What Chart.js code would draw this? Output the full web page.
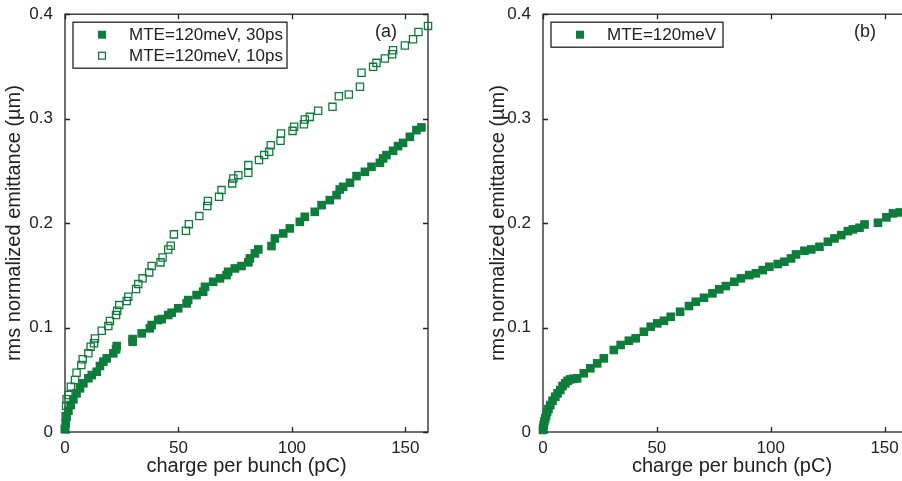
<!DOCTYPE html>
<html>
<head>
<meta charset="utf-8">
<script src="https://cdn.jsdelivr.net/npm/chart.js@4.4.0/dist/chart.umd.min.js"></script>
<style>
  html, body { margin: 0; padding: 0; background: #fff; overflow: hidden; }
  body { width: 902px; height: 481px; position: relative; }
  #chart-a { position: absolute; left: 0; top: 0; }
  #chart-b { position: absolute; left: 450px; top: 0; }
</style>
</head>
<body>
<canvas id="chart-a" width="450" height="481"></canvas>
<canvas id="chart-b" width="490" height="481"></canvas>
<script>
// panel (a): MTE=120meV, 30ps (filled squares)
var charge30 = [0.0, 0.3, 0.7, 1.5, 2.5, 3.7, 5.1, 6.6, 8.1, 10.3, 11.8, 14.0, 15.4, 16.9, 18.4,
  21.3, 22.5, 22.8, 29.8, 29.8, 33.8, 37.4, 38.2, 41.1, 42.6, 45.5, 47.0, 49.9, 53.6, 54.3,
  58.0, 60.9, 61.7, 65.3, 68.3, 71.2, 71.9, 74.9, 77.8, 80.8, 81.5, 83.7, 85.2, 91.0, 92.5,
  96.2, 99.1, 103.5, 105.7, 110.1, 113.1, 116.7, 119.7, 121.1, 122.6, 125.6, 128.5, 132.2,
  135.1, 138.8, 140.2, 141.7, 144.6, 146.8, 149.0, 152.0, 154.9, 157.1];
var emit30 = [0.0026, 0.0083, 0.0146, 0.0204, 0.0258, 0.0313, 0.037, 0.0418, 0.0466, 0.0514,
  0.0545, 0.0577, 0.0632, 0.0673, 0.0705, 0.0753, 0.0791, 0.0823, 0.0864, 0.089, 0.0944,
  0.0992, 0.1024, 0.1072, 0.1081, 0.112, 0.1142, 0.1184, 0.1231, 0.1263, 0.1311, 0.1343,
  0.139, 0.1438, 0.1471, 0.1502, 0.1534, 0.1566, 0.1589, 0.1624, 0.1662, 0.171, 0.1748,
  0.178, 0.1853, 0.1901, 0.1949, 0.2012, 0.206, 0.2108, 0.2172, 0.222, 0.2268, 0.2322,
  0.2347, 0.2386, 0.245, 0.2491, 0.2539, 0.2577, 0.2619, 0.2651, 0.2692, 0.2737, 0.2768,
  0.2826, 0.289, 0.2916];

// panel (a): MTE=120meV, 10ps (open squares)
var charge10 = [0.0, 0.3, 0.5, 0.7, 1.5, 2.6, 4.4, 5.1, 7.2, 7.8, 10.3, 11.3, 12.8, 13.2, 16.2,
  19.1, 19.8, 22.5, 23.0, 23.9, 27.2, 27.9, 31.3, 32.3, 34.2, 37.1, 38.2, 42.1, 43.0, 45.5,
  46.6, 48.0, 53.3, 54.6, 59.2, 62.7, 63.0, 67.9, 69.0, 73.7, 74.2, 76.4, 80.8, 80.8, 85.5,
  87.8, 90.0, 90.7, 95.0, 95.2, 100.3, 101.0, 105.3, 105.7, 107.9, 111.6, 117.9, 120.7,
  125.1, 130.0, 130.7, 135.8, 137.3, 141.0, 144.2, 144.6, 149.8, 153.4, 155.8, 160.0];
var emit10 = [0.003, 0.015, 0.025, 0.0313, 0.0354, 0.0434, 0.0498, 0.0568, 0.0641, 0.0696,
  0.0753, 0.0816, 0.0849, 0.0896, 0.097, 0.1014, 0.1062, 0.112, 0.1161, 0.1215, 0.1254,
  0.1295, 0.1368, 0.1416, 0.1471, 0.1528, 0.1589, 0.1624, 0.1671, 0.1748, 0.1783, 0.1892,
  0.1926, 0.199, 0.2067, 0.2163, 0.2211, 0.2252, 0.2316, 0.238, 0.2428, 0.2459, 0.2481,
  0.2555, 0.2603, 0.2651, 0.2682, 0.2746, 0.2788, 0.2858, 0.2883, 0.2922, 0.2947, 0.2992,
  0.3017, 0.3075, 0.3113, 0.3215, 0.3231, 0.3305, 0.3439, 0.3496, 0.3534, 0.3576, 0.3617,
  0.3655, 0.370, 0.376, 0.383, 0.3888];

// panel (b): MTE=120meV
var chargeB = [0.0, 0.1, 0.3, 0.6, 1.0, 1.4, 1.8, 2.4, 3.2, 4.2, 5.4, 6.4, 7.6, 8.6, 9.8, 10.8,
  12.0, 13.5, 15.0, 17.9, 20.8, 23.8, 26.7, 31.1, 34.1, 37.7, 40.7, 44.3, 47.3, 50.2, 53.1,
  56.1, 60.2, 64.1, 67.1, 70.7, 74.4, 77.4, 80.3, 84.0, 86.9, 90.6, 93.5, 96.5, 99.4, 103.1,
  106.0, 108.9, 111.1, 114.8, 117.8, 121.4, 125.1, 128.0, 131.0, 133.9, 136.1, 139.0, 141.2,
  147.1, 150.8, 153.7, 156.7, 159.6];
var emitB = [0.002, 0.004, 0.0067, 0.010, 0.0131, 0.016, 0.0194, 0.022, 0.0258, 0.030, 0.0338,
  0.037, 0.0402, 0.044, 0.0466, 0.049, 0.0504, 0.051, 0.0514, 0.0562, 0.061, 0.0657, 0.0705,
  0.0785, 0.0833, 0.0874, 0.0897, 0.096, 0.1008, 0.104, 0.1065, 0.1103, 0.1151, 0.1206,
  0.1247, 0.1285, 0.1327, 0.1366, 0.1397, 0.1438, 0.1471, 0.1502, 0.1519, 0.155, 0.1582,
  0.1608, 0.163, 0.1662, 0.17, 0.1735, 0.1748, 0.1773, 0.1821, 0.1853, 0.1885, 0.1923,
  0.194, 0.1955, 0.1987, 0.2003, 0.2055, 0.2093, 0.2102, 0.2105];

var xTicks = [0, 50, 100, 150];
var xTickLabels = ['0', '50', '100', '150'];
var yTicks = [0, 0.1, 0.2, 0.3, 0.4];
var yTickLabels = ['0', '0.1', '0.2', '0.3', '0.4'];

var GREEN = '#0e7d3c';
var INK = '#222';
var FONT = "'Liberation Sans', Arial, sans-serif";

function points(xs, ys) {
  return xs.map((x, i) => ({ x: x, y: ys[i] }));
}

// matlab-like box with inward ticks, legend box and panel tag
var framePlugin = {
  id: 'frame',
  beforeDatasetsDraw(chart) {
    var ctx = chart.ctx, a = chart.chartArea;
    var xs = chart.scales.x, ys = chart.scales.y;
    ctx.save();
    ctx.strokeStyle = INK;
    ctx.lineWidth = 1.3;
    ctx.beginPath();
    xs.ticks.forEach(t => {
      var px = Math.round(xs.getPixelForValue(t.value)) + 0.5;
      ctx.moveTo(px, a.bottom); ctx.lineTo(px, a.bottom - 5);
      ctx.moveTo(px, a.top); ctx.lineTo(px, a.top + 5);
    });
    ys.ticks.forEach(t => {
      var py = Math.round(ys.getPixelForValue(t.value)) + 0.5;
      ctx.moveTo(a.left, py); ctx.lineTo(a.left + 5, py);
      ctx.moveTo(a.right, py); ctx.lineTo(a.right - 5, py);
    });
    ctx.stroke();
    ctx.strokeRect(a.left, a.top, a.right - a.left, a.bottom - a.top);
    ctx.restore();
  },
  afterDraw(chart, args, opts) {
    var ctx = chart.ctx, a = chart.chartArea;
    var sets = chart.data.datasets;
    var bx = a.left + 8, by = a.top + 8;
    var bh = 4 + 21 * sets.length;
    ctx.save();
    ctx.fillStyle = '#fff';
    ctx.fillRect(bx, by, opts.boxWidth, bh);
    ctx.strokeStyle = INK;
    ctx.lineWidth = 1.3;
    ctx.strokeRect(bx, by, opts.boxWidth, bh);
    ctx.font = '17px ' + FONT;
    ctx.textBaseline = 'middle';
    sets.forEach((ds, i) => {
      var cy = by + 12.5 + 21 * i;
      var mx = bx + 29;
      if (ds.pointBorderWidth) {
        ctx.strokeStyle = GREEN;
        ctx.lineWidth = ds.pointBorderWidth;
        ctx.strokeRect(mx - 3.4, cy - 3.4, 6.8, 6.8);
      } else {
        ctx.fillStyle = GREEN;
        ctx.fillRect(mx - 4, cy - 4, 8, 8);
      }
      ctx.fillStyle = INK;
      ctx.textAlign = 'left';
      ctx.fillText(ds.label, bx + 56, cy + 1);
    });
    ctx.font = '18px ' + FONT;
    ctx.textAlign = 'center';
    ctx.fillText(opts.tag, a.right - opts.tagInset, a.top + 18);
    ctx.restore();
  }
};

function scaleOptions(xMax, yTitlePad) {
  return {
    x: {
      type: 'linear',
      min: 0,
      max: xMax,
      grid: { display: false },
      border: { display: false },
      ticks: {
        includeBounds: false,
        padding: -2,
        color: INK,
        font: { family: FONT, size: 17 },
        callback: (v, i) => xTickLabels[i]
      },
      afterBuildTicks: s => { s.ticks = xTicks.map(v => ({ value: v })); },
      afterFit: s => { s.height = 49; },
      title: {
        display: true,
        text: 'charge per bunch (pC)',
        color: INK,
        font: { family: FONT, size: 20 },
        padding: { top: 0, bottom: 3 }
      }
    },
    y: {
      type: 'linear',
      min: 0,
      max: 0.4,
      grid: { display: false },
      border: { display: false },
      ticks: {
        padding: 4,
        color: INK,
        font: { family: FONT, size: 17 },
        callback: (v, i) => yTickLabels[i]
      },
      afterBuildTicks: s => { s.ticks = yTicks.map(v => ({ value: v })); },
      afterFit: s => { s.width = 65; },
      title: {
        display: true,
        text: 'rms normalized emittance (\u00b5m)',
        color: INK,
        font: { family: FONT, size: 20 },
        padding: { top: yTitlePad, bottom: 0 }
      }
    }
  };
}

var chartA = new Chart(
  document.getElementById('chart-a').getContext('2d'),
  { type: 'scatter',
    data: {
      datasets: [{
          label: 'MTE=120meV, 30ps',
          data: points(charge30, emit30),
          pointStyle: 'rect',
          pointRadius: 6.1,
          pointBorderWidth: 0,
          backgroundColor: GREEN,
          borderColor: GREEN,
          clip: false
        },
        {
          label: 'MTE=120meV, 10ps',
          data: points(charge10, emit10),
          pointStyle: 'rect',
          pointRadius: 5.1,
          pointBorderWidth: 1.3,
          backgroundColor: 'rgba(0,0,0,0)',
          borderColor: GREEN,
          clip: false
        }
      ]
    },
    options: {
      responsive: false,
      animation: false,
      layout: { padding: { left: 0, right: 22, top: 14, bottom: 0 } },
      scales: scaleOptions(160, 2.6),
      plugins: {
        legend: { display: false },
        tooltip: { enabled: false },
        frame: { boxWidth: 214, tag: '(a)', tagInset: 42 }
      }
    },
    plugins: [framePlugin]
  }
); /* <-- End 'chartA' */

var chartB = new Chart(
  document.getElementById('chart-b').getContext('2d'),
  { type: 'scatter',
    data: {
      datasets: [{
        label: 'MTE=120meV',
        data: points(chargeB, emitB),
        pointStyle: 'rect',
        pointRadius: 6.1,
        pointBorderWidth: 0,
        backgroundColor: GREEN,
        borderColor: GREEN,
        clip: false
      }]
    },
    options: {
      responsive: false,
      animation: false,
      layout: { padding: { left: 28, right: 19, top: 14, bottom: 0 } },
      scales: scaleOptions(166, 8),
      plugins: {
        legend: { display: false },
        tooltip: { enabled: false },
        frame: { boxWidth: 172, tag: '(b)', tagInset: 56 }
      }
    },
    plugins: [framePlugin]
  }
); /* <-- End 'chartB' */
</script>
</body>
</html>
